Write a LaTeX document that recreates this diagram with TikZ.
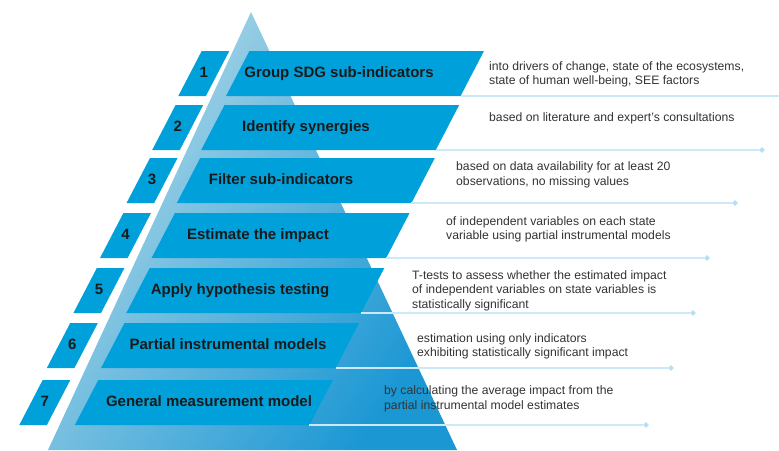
\documentclass[tikz,border=0pt]{standalone}
\usepackage{fontspec}
\setmainfont{Liberation Sans}
\usetikzlibrary{shapes.geometric}
\definecolor{bandblue}{HTML}{00A0DA}
\definecolor{pyrlight}{HTML}{B4DAE8}
\definecolor{pyrdark}{HTML}{1B97D4}
\definecolor{linecol}{HTML}{CDE9F8}
\definecolor{dotcol}{HTML}{B5DFF6}
\definecolor{txtdark}{HTML}{1A1A1A}
\definecolor{txtgray}{HTML}{333333}
\tikzset{
  bandfill/.style={fill=bandblue},
  conn/.style={draw=linecol, line width=1.5pt},
  dot/.style={diamond, fill=dotcol, inner sep=0pt, minimum size=6pt},
  numlbl/.style={font=\fontsize{15}{18}\selectfont\bfseries, text=txtdark, inner sep=0pt, text height=11pt, text depth=3pt},
  titlelbl/.style={font=\fontsize{15}{18}\selectfont\bfseries, text=txtdark, inner sep=0pt, text height=11pt, text depth=3pt},
  desc/.style={font=\fontsize{12.2}{14.5}\selectfont, text=txtgray, inner sep=0pt, anchor=west, align=left}
}
\begin{document}
\begin{tikzpicture}[x=1pt,y=-1pt]
\useasboundingbox (0,0) rectangle (779,450);
% pyramid
\shade[top color=pyrlight, bottom color=pyrdark, shading angle=55]
  (251,12) -- (457,450) -- (48,450) -- cycle;
% bands, numbers, connectors
\foreach \i/\T/\E in {1/51/790, 2/105/762, 3/158/735, 4/213/707, 5/268/693, 6/323/671, 7/380/646} {
  \pgfmathsetmacro\L{249.4-0.4593*(\T-51)}
  \pgfmathsetmacro\N{201.7-0.4833*(\T-51)}
  \pgfmathsetmacro\B{\T+45}
  \fill[bandfill] (\L,\T) -- ++(234.6,0) -- ++(-23.4,45) -- ++(-234.6,0) -- cycle;
  \fill[bandfill] (\N,\T) -- ++(27.6,0) -- ++(-23.4,45) -- ++(-27.6,0) -- cycle;
  \coordinate (br\i) at (\L+211.2,\B);
  \node[dot] (d\i) at (\E,\B) {};
  \draw[conn] (br\i) -- (d\i);
  \node[numlbl] (n\i) at (\N+2.1,\T+22.5) {\i};
}
% titles
\node[titlelbl] (t1) at (339,73.5) {Group SDG sub-indicators};
\node[titlelbl] (t2) at (306,127.5) {Identify synergies};
\node[titlelbl] (t3) at (281,180.5) {Filter sub-indicators};
\node[titlelbl] (t4) at (258,235.5) {Estimate the impact};
\node[titlelbl] (t5) at (240,290.5) {Apply hypothesis testing};
\node[titlelbl] (t6) at (228,345.5) {Partial instrumental models};
\node[titlelbl] (t7) at (209,402) {General measurement model};
% descriptions
\node[desc] (e1) at (489,74.5) {into drivers of change, state of the ecosystems,\\state of human well-being, SEE factors};
\node[desc] (e2) at (489,118) {based on literature and expert’s consultations};
\node[desc] (e3) at (456,175) {based on data availability for at least 20\\observations, no missing values};
\node[desc] (e4) at (446,229.5) {of independent variables on each state\\variable using partial instrumental models};
\node[desc] (e5) at (412,290.5) {T-tests to assess whether the estimated impact\\of independent variables on state variables is\\statistically significant};
\node[desc] (e6) at (417,346.5) {estimation using only indicators\\exhibiting statistically significant impact};
\node[desc] (e7) at (384,399) {by calculating the average impact from the\\partial instrumental model estimates};
\end{tikzpicture}
\end{document}
